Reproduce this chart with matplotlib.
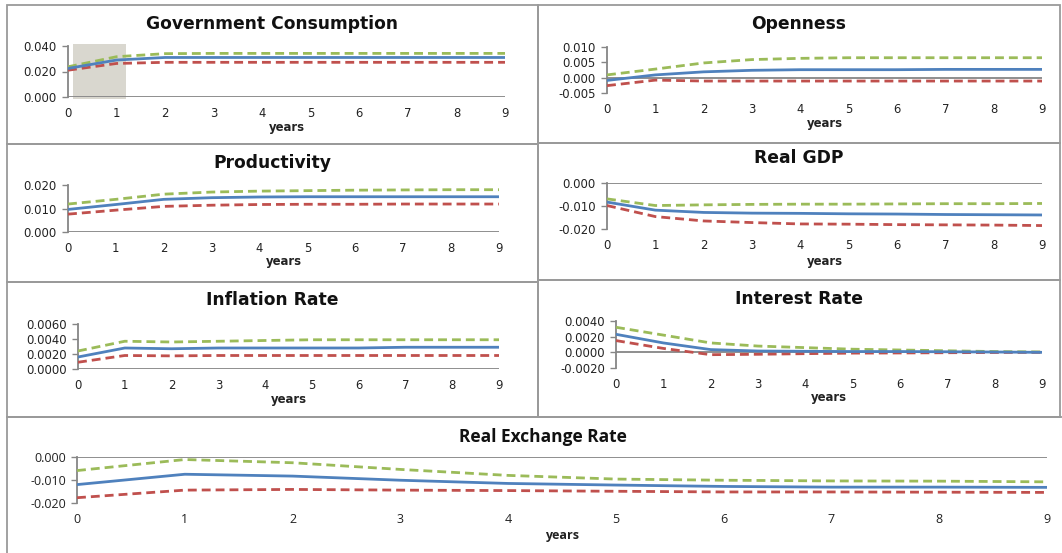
import matplotlib
matplotlib.use("Agg")
import matplotlib.pyplot as plt
from matplotlib.patches import Rectangle
from matplotlib.ticker import FixedLocator, FormatStrFormatter

W, H = 1062, 553
years = [0, 1, 2, 3, 4, 5, 6, 7, 8, 9]

# Impulse responses: point estimate with upper / lower bands
gov_mid = [0.0224, 0.0290, 0.0310, 0.0310, 0.0310, 0.0310, 0.0310, 0.0310, 0.0310, 0.0310]
gov_up = [0.0237, 0.0316, 0.0340, 0.0342, 0.0342, 0.0342, 0.0342, 0.0342, 0.0342, 0.0342]
gov_lo = [0.0210, 0.0263, 0.0272, 0.0272, 0.0272, 0.0272, 0.0272, 0.0272, 0.0272, 0.0272]

open_mid = [-0.0009, 0.0009, 0.0019, 0.0024, 0.0026, 0.0026, 0.0026, 0.0027, 0.0027, 0.0027]
open_up = [0.0009, 0.0028, 0.0048, 0.0059, 0.0063, 0.0065, 0.0065, 0.0065, 0.0065, 0.0065]
open_lo = [-0.0026, -0.0008, -0.0011, -0.0011, -0.0011, -0.0011, -0.0011, -0.0011, -0.0011, -0.0011]

prod_mid = [0.0096, 0.0117, 0.0139, 0.0146, 0.0149, 0.0150, 0.0150, 0.0150, 0.0150, 0.0150]
prod_up = [0.0119, 0.0139, 0.0161, 0.0170, 0.0174, 0.0176, 0.0178, 0.0179, 0.0180, 0.0180]
prod_lo = [0.0076, 0.0093, 0.0109, 0.0114, 0.0117, 0.0118, 0.0118, 0.0119, 0.0119, 0.0119]

gdp_mid = [-0.0083, -0.0118, -0.0128, -0.0131, -0.0132, -0.0134, -0.0135, -0.0137, -0.0138, -0.0139]
gdp_up = [-0.0069, -0.0098, -0.0095, -0.0093, -0.0092, -0.0092, -0.0091, -0.0090, -0.0090, -0.0089]
gdp_lo = [-0.0098, -0.0146, -0.0165, -0.0172, -0.0178, -0.0179, -0.0181, -0.0182, -0.0183, -0.0185]

infl_mid = [0.0016, 0.0028, 0.0027, 0.0028, 0.0028, 0.0028, 0.0028, 0.0029, 0.0029, 0.0029]
infl_up = [0.0024, 0.0037, 0.0036, 0.0037, 0.0038, 0.0039, 0.0039, 0.0039, 0.0039, 0.0039]
infl_lo = [0.0009, 0.0018, 0.00175, 0.0018, 0.0018, 0.0018, 0.0018, 0.0018, 0.0018, 0.0018]

int_mid = [0.0023, 0.0012, 0.00035, 0.00017, 0.00013, 0.0001, 0.0001, 0.00007, 0.00004, 0.0]
int_up = [0.0032, 0.0022, 0.0012, 0.0008, 0.0006, 0.0004, 0.0003, 0.0002, 0.0001, 0.00005]
int_lo = [0.0015, 0.0005, -0.0003, -0.00025, -0.00017, -0.0001, -0.00008, -0.00005, -0.00002, 0.0]

rer_mid = [-0.0120, -0.0075, -0.0083, -0.0101, -0.0115, -0.0122, -0.0128, -0.0131, -0.0131, -0.0132]
rer_up = [-0.0059, -0.0011, -0.0025, -0.0054, -0.0080, -0.0096, -0.0101, -0.0104, -0.0105, -0.0108]
rer_lo = [-0.0177, -0.0144, -0.0141, -0.0144, -0.0146, -0.0149, -0.0152, -0.0152, -0.0153, -0.0154]

BLUE, RED, GREEN = "#4F81BD", "#C0504D", "#9BBB59"
AXIS_GREY = "#868686"

fig = plt.figure(figsize=(W / 100, H / 100), dpi=100)
fig.patch.set_facecolor("white")


def px_axes(x0, x1, ytop, ybot):
    return fig.add_axes([x0 / W, 1 - ybot / H, (x1 - x0) / W, (ybot - ytop) / H])


def panel(box, title, title_y, years_y, x0, x1, ytop, ybot, ymin, ymax, ticks, fmt,
          mid, up, lo, font="DejaVu Sans", tsize=12.3, ksize=8.4):
    bx0, bx1 = box
    ax = px_axes(x0, x1, ytop, ybot)
    ax.set_xlim(0, 9)
    ax.set_ylim(ymin, ymax)
    ax.plot(years, mid, color=BLUE, lw=2.0, solid_capstyle="round", zorder=4)
    ax.plot(years, up, color=GREEN, lw=2.0, dashes=(3.2, 1.8), zorder=3)
    ax.plot(years, lo, color=RED, lw=2.0, dashes=(3.2, 1.8), zorder=3)
    ax.axhline(0, color=AXIS_GREY, lw=1.3, zorder=2)
    for s in ("top", "right", "bottom"):
        ax.spines[s].set_visible(False)
    ax.spines["left"].set_color(AXIS_GREY)
    ax.spines["left"].set_linewidth(1.3)
    ax.yaxis.set_major_locator(FixedLocator(ticks))
    ax.yaxis.set_major_formatter(FormatStrFormatter(fmt))
    ax.set_xticks(years)
    ax.tick_params(axis="x", length=0, pad=7, labelsize=ksize, labelcolor="#222222")
    ax.tick_params(axis="y", length=4, width=1.0, color=AXIS_GREY, pad=4,
                   labelsize=ksize, labelcolor="#222222")
    for lab in ax.get_xticklabels() + ax.get_yticklabels():
        lab.set_fontfamily(font)
    ax.patch.set_alpha(0)
    cx = (bx0 + bx1) / 2
    fig.text(cx / W, 1 - title_y / H, title, ha="center", va="center",
             fontsize=tsize, fontweight="bold", family=font, color="#111111")
    fig.text(((x0 + x1) / 2) / W, 1 - years_y / H, "years", ha="center", va="center",
             fontsize=ksize, fontweight="bold", family=font, color="#222222")
    return ax


# panel frames
frame_kw = dict(transform=None, fill=False, edgecolor="#9A9A9A", linewidth=1.3)
def frame(x0, y0, x1, y1):
    fig.patches.append(Rectangle((x0, H - y1), x1 - x0, y1 - y0, **frame_kw))

frame(7, 5, 538, 144)
frame(538, 5, 1060, 143)
frame(7, 144, 538, 282)
frame(538, 143, 1060, 280)
frame(7, 282, 538, 417)
frame(538, 280, 1060, 417)
frame(7, 417, 1068, 560)

ax1 = panel((7, 538), "Government Consumption", 24, 127, 68, 505, 46, 97,
            0.0, 0.040, [0.0, 0.02, 0.04], "%.3f", gov_mid, gov_up, gov_lo)
ax1.add_patch(Rectangle((0.1, -0.0016), 1.1, 0.0432, facecolor="#D9D7CF",
                        edgecolor="none", clip_on=False, zorder=1))

panel((538, 1060), "Openness", 24, 124, 607, 1042, 47, 93,
      -0.005, 0.010, [-0.005, 0.0, 0.005, 0.010], "%.3f", open_mid, open_up, open_lo)

panel((7, 538), "Productivity", 163, 262, 68, 499, 185, 232,
      0.0, 0.020, [0.0, 0.01, 0.02], "%.3f", prod_mid, prod_up, prod_lo)

panel((538, 1060), "Real GDP", 158, 261, 607, 1042, 183, 229,
      -0.020, 0.0, [-0.02, -0.01, 0.0], "%.3f", gdp_mid, gdp_up, gdp_lo)

panel((7, 538), "Inflation Rate", 300, 399, 78, 499, 324, 369,
      0.0, 0.006, [0.0, 0.002, 0.004, 0.006], "%.4f", infl_mid, infl_up, infl_lo)

panel((538, 1060), "Interest Rate", 299, 398, 616, 1042, 321, 368,
      -0.002, 0.004, [-0.002, 0.0, 0.002, 0.004], "%.4f", int_mid, int_up, int_lo)

panel((7, 1078), "Real Exchange Rate", 437, 535, 77, 1047, 457, 503,
      -0.020, 0.0, [-0.02, -0.01, 0.0], "%.3f", rer_mid, rer_up, rer_lo,
      font="Open Sans", tsize=12.5, ksize=9)

fig.savefig("out.png", dpi=100, facecolor="white")
